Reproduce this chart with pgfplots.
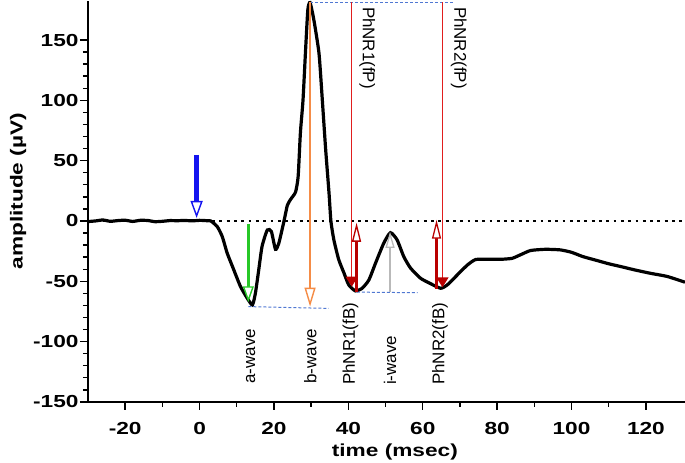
\documentclass[border=0pt]{standalone}
\usepackage{fontspec}
\setmainfont{Liberation Sans}
\newfontfamily\axfont{Liberation Sans Bold}[FakeStretch=1.3]
\usepackage{pgfplots}
\pgfplotsset{compat=1.18}
\usetikzlibrary{arrows.meta}
\definecolor{bluearrow}{RGB}{20,20,240}
\definecolor{greenarrow}{RGB}{40,200,40}
\definecolor{orangearrow}{RGB}{245,140,70}
\definecolor{thinred}{RGB}{225,30,30}
\definecolor{darkred}{RGB}{185,0,0}
\definecolor{grayarrow}{RGB}{185,185,185}
\definecolor{dashblue}{RGB}{80,120,210}
\pgfplotstableread{
t v
-30 -0.5
-28 0
-26 0.8
-24 -0.3
-22 0.3
-20 0.6
-18 -0.4
-16 0.5
-14 0.4
-12 -0.6
-10 -0.3
-8 0.3
-6 0.2
-4 0.4
-2 0.1
0 0.5
1 0.4
2 0.2
3 0
4.75 -4.7
6.1 -13
7.4 -26.5
9.2 -40.6
11 -54.4
12.8 -64
14.2 -69.6
15 -60
15.9 -40.6
16.8 -21
18.2 -7.5
19.3 -8.8
20.4 -23.5
21.3 -18.5
22.7 0
23.6 13
24.5 18
25.8 24
26.5 37
27.1 73
27.8 100
28.5 142
29.1 175
29.7 181
30.7 167
32.1 139
33 100
33.9 59
34.8 23
35.3 0
36.1 -15.7
37.4 -32
38.8 -43
40.1 -53
41.9 -58
43.7 -55.8
45.5 -49
47.3 -35
49.5 -18.5
51.3 -9.7
53.1 -15.7
54.9 -29.6
56.7 -39
59.4 -47.5
62.1 -52
64.8 -55.8
66.6 -53
69.3 -44.7
72 -36.5
74.2 -32
77.3 -31.8
80.9 -31.8
84 -31
86.3 -28
89 -24.5
93 -23.5
97 -24
100 -26
103 -29.5
106.5 -32.5
110 -35.5
113.5 -38
117 -40.6
121.2 -43.4
125.7 -46
130.5 -50.8
}\ergdata
\begin{document}
\begin{tikzpicture}
\begin{axis}[
  at={(0,0)}, anchor=south west,
  scale only axis, width=597bp, height=400.5bp,
  xmin=-30, xmax=130.5, ymin=-150, ymax=182,
  axis x line*=bottom, axis y line*=left,
  axis line style={line width=1.7bp, -},
  tick align=outside,
  xtick={-20,0,20,40,60,80,100,120},
  ytick={-150,-100,-50,0,50,100,150},
  xticklabels={-20,0,20,40,60,80,100,120},
  yticklabels={-150,-100,-50,0,50,100,150},
  minor x tick num=1, minor y tick num=4,
  major tick length=8bp, minor tick length=5bp,
  every tick/.style={black, line width=1.4bp},
  tick label style={font=\axfont\fontsize{17.5}{18}\selectfont},
  xticklabel style={yshift=-9bp},
  yticklabel style={xshift=2bp},
  clip=false,
  xlabel={time (msec)}, ylabel={amplitude (µV)},
  every axis x label/.style={at={(axis description cs:0.514,-0.124)}, anchor=center, font=\axfont\fontsize{17.5}{18}\selectfont},
  every axis y label/.style={at={(axis description cs:-0.117,0.526)}, rotate=90, anchor=center, font=\axfont\fontsize{17.5}{18}\selectfont},
]
% zero line
\addplot[black, line width=2.8bp, dash pattern=on 2.8bp off 4.5bp] coordinates {(-30,0) (130.5,0)};
% ERG curve
\addplot[black, line width=3.2bp, smooth, tension=0.35] table[x=t, y=v] {\ergdata};
% dashed guides
\addplot[dashblue, line width=1bp, dash pattern=on 3bp off 2bp] coordinates {(29.7,181.5) (68.0,181.5)};
\addplot[dashblue, line width=1bp, dash pattern=on 3bp off 2bp] coordinates {(13.1,-71) (34.7,-72.5)};
\addplot[dashblue, line width=1bp, dash pattern=on 3bp off 2bp] coordinates {(42.3,-59) (58.6,-59.5)};
% stimulus arrow
\addplot[bluearrow, line width=4.5bp, -{Triangle[length=17bp, width=12bp, fill=white, line width=1.4bp]}] coordinates {(-0.8,54.7) (-0.8,2.5)};
% a-wave
\addplot[greenarrow, line width=2.6bp, -{Triangle[length=16bp, width=11bp, fill=white, line width=1.4bp]}] coordinates {(13.1,-2.5) (13.1,-67.4)};
% b-wave
\addplot[orangearrow, line width=2.6bp, -{Triangle[length=19bp, width=11bp, fill=white, line width=1.4bp]}] coordinates {(29.7,181.5) (29.7,-71)};
% PhNR1 fP
\addplot[thinred, line width=1.5bp, -{Triangle[length=10bp, width=12bp, fill=darkred, color=darkred]}] coordinates {(40.9,181.5) (40.9,-54.5)};
% PhNR1 fB
\addplot[darkred, line width=3bp, -{Triangle[length=19bp, width=9bp, fill=white, line width=1.3bp]}] coordinates {(42.2,-58.8) (42.2,-1.5)};
% i-wave
\addplot[grayarrow, line width=2.6bp, -{Triangle[length=16bp, width=9bp, fill=white, line width=1.3bp]}] coordinates {(51.2,-58.8) (51.2,-9)};
% PhNR2 fB
\addplot[darkred, line width=3bp, -{Triangle[length=19bp, width=9bp, fill=white, line width=1.3bp]}] coordinates {(63.7,-56) (63.7,1)};
% PhNR2 fP
\addplot[thinred, line width=1.5bp, -{Triangle[length=10bp, width=12bp, fill=darkred, color=darkred]}] coordinates {(65.3,181.5) (65.3,-55)};
% labels
\begin{scope}[every node/.style={font=\fontsize{17}{17}\selectfont, inner sep=0pt}]
\node[rotate=90, anchor=west] at (axis cs:13.7,-135) {a-wave};
\node[rotate=90, anchor=west] at (axis cs:29.8,-135) {b-wave};
\node[rotate=90, anchor=west] at (axis cs:40.6,-136) {PhNR1(fB)};
\node[rotate=90, anchor=west] at (axis cs:51.2,-136) {i-wave};
\node[rotate=90, anchor=west] at (axis cs:64.6,-136) {PhNR2(fB)};
\node[rotate=-90, anchor=west] at (axis cs:45.1,177.5) {PhNR1(fP)};
\node[rotate=-90, anchor=west] at (axis cs:69.7,177.5) {PhNR2(fP)};
\end{scope}
\end{axis}
\pgfresetboundingbox
\path (-88bp,-61bp) rectangle (597bp,401.9bp);
\end{tikzpicture}
\end{document}
